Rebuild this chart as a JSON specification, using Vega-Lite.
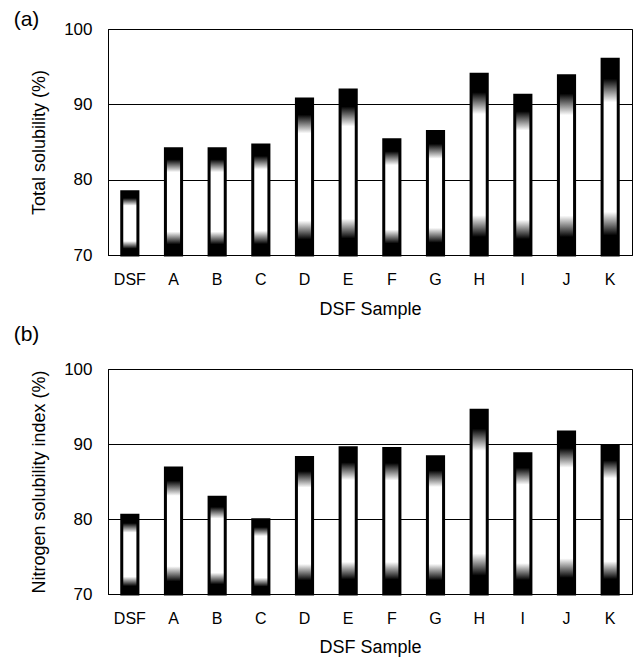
{
  "$schema": "https://vega.github.io/schema/vega-lite/v6.json",
  "padding": {"left": 13, "top": 8, "right": 4, "bottom": 2},
  "background": "white",
  "spacing": 4,
  "datasets": {
    "total": [
      {"sample": "DSF", "value": 78.4},
      {"sample": "A", "value": 84.1},
      {"sample": "B", "value": 84.1},
      {"sample": "C", "value": 84.6},
      {"sample": "D", "value": 90.7},
      {"sample": "E", "value": 91.9},
      {"sample": "F", "value": 85.3},
      {"sample": "G", "value": 86.4},
      {"sample": "H", "value": 94.0},
      {"sample": "I", "value": 91.2},
      {"sample": "J", "value": 93.8},
      {"sample": "K", "value": 96.0}
    ],
    "nsi": [
      {"sample": "DSF", "value": 80.5},
      {"sample": "A", "value": 86.8},
      {"sample": "B", "value": 82.9},
      {"sample": "C", "value": 79.9},
      {"sample": "D", "value": 88.2},
      {"sample": "E", "value": 89.5},
      {"sample": "F", "value": 89.4},
      {"sample": "G", "value": 88.3},
      {"sample": "H", "value": 94.5},
      {"sample": "I", "value": 88.7},
      {"sample": "J", "value": 91.6},
      {"sample": "K", "value": 89.8}
    ]
  },
  "config": {
    "font": "Liberation Sans",
    "view": {"stroke": "#000", "strokeWidth": 1},
    "axis": {
      "labelFont": "Liberation Sans",
      "titleFont": "Liberation Sans",
      "labelColor": "#000",
      "titleColor": "#000",
      "titleFontWeight": "normal",
      "domainColor": "#000",
      "ticks": false
    },
    "title": {"font": "Liberation Sans", "fontSize": 21, "fontWeight": "normal", "anchor": "start", "frame": "bounds", "color": "#000"}
  },
  "vconcat": [
    {
      "title": {"text": "(a)", "dx": -17, "offset": -10},
      "width": 524,
      "height": 226,
      "data": {"name": "total"},
      "mark": {
        "type": "bar",
        "stroke": "#000",
        "strokeWidth": 3,
        "color": {
          "gradient": "linear", "x1": 0, "y1": 0, "x2": 0, "y2": 1,
          "stops": [
            {"offset": 0, "color": "#000"},
            {"offset": 0.1, "color": "#000"},
            {"offset": 0.22, "color": "#fff"},
            {"offset": 0.78, "color": "#fff"},
            {"offset": 0.9, "color": "#000"},
            {"offset": 1, "color": "#000"}
          ]
        }
      },
      "encoding": {
        "x": {
          "field": "sample", "type": "nominal", "sort": null,
          "scale": {"paddingInner": 0.63, "paddingOuter": 0.315},
          "axis": {"title": "DSF Sample", "labelAngle": 0, "labelFontSize": 16, "labelPadding": 16, "titleFontSize": 18, "titlePadding": 13, "grid": false}
        },
        "y": {
          "field": "value", "type": "quantitative",
          "scale": {"domain": [70, 100], "nice": false, "zero": false},
          "axis": {"title": "Total solubility (%)", "values": [70, 80, 90, 100], "labelFontSize": 17, "labelPadding": 16, "titleFontSize": 18, "titlePadding": 15, "grid": true, "gridColor": "#000", "gridOpacity": 1, "gridWidth": 1}
        },
        "y2": {"datum": 70}
      }
    },
    {
      "title": {"text": "(b)", "dx": -17, "offset": 15},
      "width": 524,
      "height": 225,
      "data": {"name": "nsi"},
      "mark": {
        "type": "bar",
        "stroke": "#000",
        "strokeWidth": 3,
        "color": {
          "gradient": "linear", "x1": 0, "y1": 0, "x2": 0, "y2": 1,
          "stops": [
            {"offset": 0, "color": "#000"},
            {"offset": 0.1, "color": "#000"},
            {"offset": 0.22, "color": "#fff"},
            {"offset": 0.78, "color": "#fff"},
            {"offset": 0.9, "color": "#000"},
            {"offset": 1, "color": "#000"}
          ]
        }
      },
      "encoding": {
        "x": {
          "field": "sample", "type": "nominal", "sort": null,
          "scale": {"paddingInner": 0.63, "paddingOuter": 0.315},
          "axis": {"title": "DSF Sample", "labelAngle": 0, "labelFontSize": 16, "labelPadding": 16, "titleFontSize": 18, "titlePadding": 12, "grid": false}
        },
        "y": {
          "field": "value", "type": "quantitative",
          "scale": {"domain": [70, 100], "nice": false, "zero": false},
          "axis": {"title": "Nitrogen solubility index (%)", "values": [70, 80, 90, 100], "labelFontSize": 17, "labelPadding": 16, "titleFontSize": 18, "titlePadding": 15, "grid": true, "gridColor": "#000", "gridOpacity": 1, "gridWidth": 1}
        },
        "y2": {"datum": 70}
      }
    }
  ]
}
